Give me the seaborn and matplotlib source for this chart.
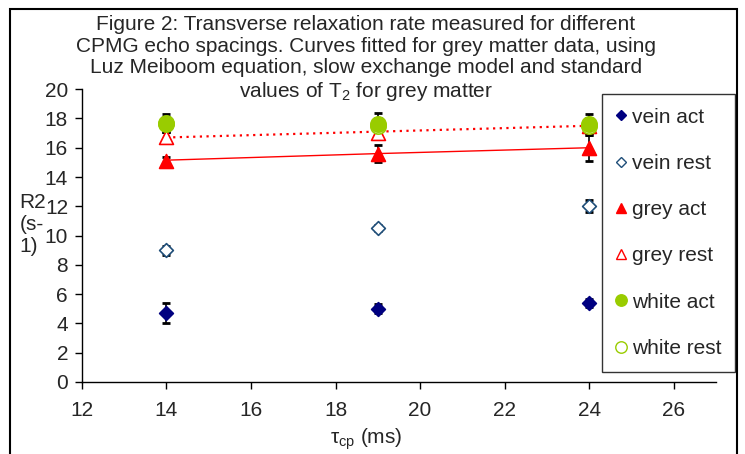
import matplotlib
matplotlib.use("Agg")
import matplotlib.pyplot as plt
import seaborn as sns
import pandas as pd
from matplotlib.lines import Line2D
from matplotlib.patches import Rectangle

sns.set_style("white")
plt.rcParams['font.family'] = ['Liberation Sans', 'DejaVu Sans']
plt.rcParams['mathtext.fontset'] = 'custom'
plt.rcParams['mathtext.rm'] = 'Liberation Sans'
plt.rcParams['mathtext.it'] = 'Liberation Sans'

tau = [14, 19, 24]
vein_act = [4.7, 5.0, 5.4]
vein_act_err = [0.7, 0.3, 0.3]
vein_rest = [9.0, 10.5, 12.0]
vein_rest_err = [0.3, 0.2, 0.4]
grey_act = [15.1, 15.6, 16.0]
grey_act_err = [0.3, 0.6, 0.9]
grey_rest = [16.7, 17.0, 17.5]
grey_rest_err = [0.4, 0.4, 0.3]
white_act = [17.7, 17.6, 17.6]
white_act_err = [0.6, 0.8, 0.7]
white_rest = [17.6, 17.5, 17.5]
white_rest_err = [0.5, 0.5, 0.5]

fit_act = [15.15, 15.6, 16.0]
fit_rest = [16.7, 17.1, 17.5]

FS = 15

fig = plt.figure(figsize=(7.45, 4.54), dpi=100)
ax = fig.add_axes([0.110, 0.1586, 0.851, 0.645])

# fitted curves
sns.lineplot(x=tau, y=fit_act, ax=ax, color='red', lw=1.0, linestyle='-', legend=False)
sns.lineplot(x=tau, y=fit_rest, ax=ax, color='red', lw=1.6, linestyle=(0, (1, 2)), legend=False)

series = [
    ("vein act", vein_act, vein_act_err, 'D', '#000080', True, 7),
    ("vein rest", vein_rest, vein_rest_err, 'D', '#1F4E79', False, 7),
    ("grey act", grey_act, grey_act_err, '^', '#FF0000', True, 10),
    ("grey rest", grey_rest, grey_rest_err, '^', '#FF0000', False, 10),
    ("white rest", white_rest, white_rest_err, 'o', '#99CC00', False, 11),
    ("white act", white_act, white_act_err, 'o', '#99CC00', True, 11),
]
for name, ys, es, m, c, filled, ms in series:
    ax.errorbar(tau, ys, yerr=es, fmt='none', ecolor='black', elinewidth=1.2,
                capsize=3, capthick=2, zorder=3)
    df = pd.DataFrame({'x': tau, 'y': ys})
    sns.scatterplot(data=df, x='x', y='y', ax=ax, marker=m, s=ms**2,
                    color=c if filled else 'white', edgecolor=c,
                    linewidth=1.2, zorder=4, legend=False)

ax.set_xlim(12, 27)
ax.set_ylim(0, 20)
ax.set_xticks(range(12, 27, 2))
ax.set_yticks(range(0, 21, 2))
ax.tick_params(axis='both', labelsize=FS, direction='out', length=5, width=1,
               color='black', left=True, bottom=True)
ax.tick_params(axis='x', pad=9)
ax.tick_params(axis='y', pad=5)
for s in ['top', 'right']:
    ax.spines[s].set_visible(False)
for s in ['left', 'bottom']:
    ax.spines[s].set_color('black')
    ax.spines[s].set_linewidth(1)
ax.set_xlabel('')
ax.set_ylabel('')

fig.text(0.491, 0.022, r'$\tau_{\mathrm{cp}}$ (ms)', ha='center', va='baseline', fontsize=FS)
fig.text(0.026, 0.505, 'R2\n(s-\n1)', ha='left', va='center', fontsize=FS, linespacing=1.2)

title = ("Figure 2: Transverse relaxation rate measured for different\n"
         "CPMG echo spacings. Curves fitted for grey matter data, using\n"
         "Luz Meiboom equation, slow exchange model and standard\n"
         r"values of T$_2$ for grey matter")
fig.text(0.491, 0.966, title, ha='center', va='top', fontsize=FS, linespacing=1.16)

# legend
handles = []
labels = []
for name, ys, es, m, c, filled, ms in [series[0], series[1], series[2], series[3], series[5], series[4]]:
    handles.append(Line2D([], [], marker=m, linestyle='none', markersize=ms * 0.75,
                          markerfacecolor=c if filled else 'white', markeredgecolor=c,
                          markeredgewidth=1.0))
    labels.append(name)
leg = fig.legend(handles, labels, loc='upper left', bbox_to_anchor=(0.808, 0.793),
                 fontsize=FS, frameon=True, fancybox=False, edgecolor='black',
                 handlelength=0.5, handletextpad=0.3, labelspacing=1.31,
                 borderpad=0.65, borderaxespad=0)
leg.get_frame().set_linewidth(1.0)

# outer frame of chart area
fig.patches.append(Rectangle((0.014, -0.01), 0.975, 0.99, transform=fig.transFigure,
                             fill=False, edgecolor='black', linewidth=1.5))

fig.savefig('out.png', dpi=100)
